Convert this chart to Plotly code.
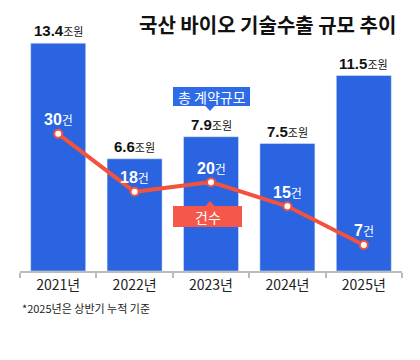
import plotly.graph_objects as go

years = ["2021년", "2022년", "2023년", "2024년", "2025년"]
amounts = [13.4, 6.6, 7.9, 7.5, 11.5]
counts = [30, 18, 20, 15, 7]
amount_labels = ["13.4", "6.6", "7.9", "7.5", "11.5"]

BLUE = "#2A64E0"
RED = "#F2533F"
W, H = 420, 360
L, R, T, B = 20, 18, 30, 89
PW, PH = W - L - R, H - T - B

def px(x):
    return (x - L) / PW

def py(y):
    return (H - B - y) / PH

fig = go.Figure()
fig.add_trace(go.Bar(x=years, y=amounts, marker_color=BLUE, width=0.72,
                     hoverinfo="skip", yaxis="y"))
fig.add_trace(go.Scatter(x=years, y=counts, mode="lines+markers", yaxis="y2",
                         line=dict(color=RED, width=4),
                         marker=dict(size=8, color="white", line=dict(color=RED, width=2)),
                         hoverinfo="skip"))

ann = []
for yr, a, lab in zip(years, amounts, amount_labels):
    ann.append(dict(x=yr, y=a, xref="x", yref="y", yanchor="bottom", yshift=2,
                    text=f"<b>{lab}</b><span style='font-size:11px'>조원</span>",
                    showarrow=False,
                    font=dict(family="Liberation Sans, Noto Sans CJK KR", size=15, color="#111")))
for yr, c in zip(years, counts):
    ann.append(dict(x=yr, y=c, xref="x", yref="y2", yanchor="middle", yshift=14,
                    text=f"<b>{c}</b><span style='font-size:12px'>건</span>",
                    showarrow=False,
                    font=dict(family="Liberation Sans, Noto Sans CJK KR", size=16, color="white")))

ann.append(dict(x=px(398), y=py(24), xref="paper", yref="paper", xanchor="right", yanchor="middle",
                text="<b>국산 바이오 기술수출 규모 추이</b>", showarrow=False,
                font=dict(family="Noto Sans CJK KR", size=20, color="#111")))
ann.append(dict(x=px(20), y=py(308), xref="paper", yref="paper", xanchor="left", yanchor="middle",
                text="*2025년은 상반기 누적 기준", showarrow=False,
                font=dict(family="Noto Sans CJK KR", size=11, color="#222")))

shapes = []
# 총 계약규모 box
shapes.append(dict(type="rect", xref="paper", yref="paper", x0=px(173), x1=px(250),
                   y0=py(106), y1=py(87), fillcolor="#2E6BE6", line=dict(width=0), layer="above"))
shapes.append(dict(type="path", xref="paper", yref="paper",
                   path=f"M {px(205)} {py(105.5)} L {px(215)} {py(105.5)} L {px(210)} {py(111)} Z",
                   fillcolor="#2E6BE6", line=dict(width=0), layer="above"))
ann.append(dict(x=px(211.5), y=py(96.5), xref="paper", yref="paper", xanchor="center", yanchor="middle",
                text="총 계약규모", showarrow=False,
                font=dict(family="Noto Sans CJK KR", size=14, color="white")))
# 건수 box
shapes.append(dict(type="rect", xref="paper", yref="paper", x0=px(173), x1=px(242),
                   y0=py(227), y1=py(206), fillcolor="#F5574A", line=dict(width=0), layer="above"))
shapes.append(dict(type="path", xref="paper", yref="paper",
                   path=f"M {px(205)} {py(206.5)} L {px(215)} {py(206.5)} L {px(210)} {py(201)} Z",
                   fillcolor="#F5574A", line=dict(width=0), layer="above"))
ann.append(dict(x=px(207.5), y=py(216.5), xref="paper", yref="paper", xanchor="center", yanchor="middle",
                text="건수", showarrow=False,
                font=dict(family="Noto Sans CJK KR", size=14, color="white")))

fig.update_layout(
    width=W, height=H, margin=dict(l=L, r=R, t=T, b=B),
    paper_bgcolor="white", plot_bgcolor="white", showlegend=False,
    xaxis=dict(type="category", range=[-0.5, 4.5], showline=True, linecolor="#BBBBBB", linewidth=1.5,
               ticks="outside", tickson="boundaries", ticklen=5, tickcolor="#BBBBBB", tickwidth=1.5,
               tickfont=dict(family="Noto Sans CJK KR", size=14, color="#222"), showgrid=False),
    yaxis=dict(range=[0, PH / 17.0], visible=False, showgrid=False),
    yaxis2=dict(range=[1.6, 51.5], overlaying="y", visible=False, showgrid=False),
    annotations=ann, shapes=shapes,
)
fig.write_html("out.html", config={"displayModeBar": False},
               post_script="document.body.style.margin='0';document.body.style.overflow='hidden';")
